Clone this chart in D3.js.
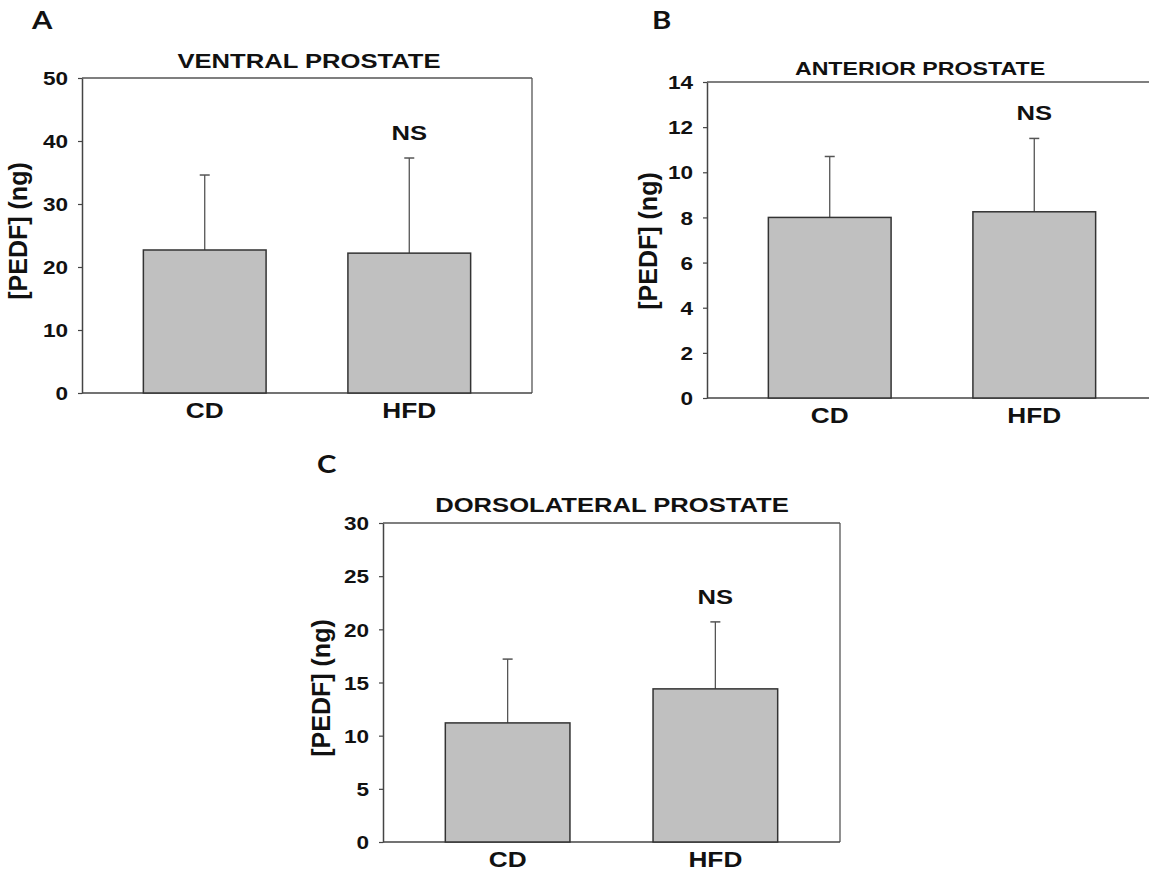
<!DOCTYPE html>
<html>
<head>
<meta charset="utf-8">
<script src="https://cdn.jsdelivr.net/npm/d3@7"></script>
<style>
  html, body { margin: 0; padding: 0; background: #fff; }
  svg { display: block; }
</style>
</head>
<body>
<svg id="chart" width="1149" height="875"></svg>
<script>
// ---- data ----
const categories = ["CD", "HFD"];
const panelLetters = ["A", "B", "C"];
const panelTitles = ["VENTRAL PROSTATE", "ANTERIOR PROSTATE", "DORSOLATERAL PROSTATE"];
const yAxisLabel = "[PEDF] (ng)";
const ventralMeans = [22.7, 22.2];
const ventralErrors = [11.9, 15.1];
const anteriorMeans = [8.0, 8.25];
const anteriorErrors = [2.7, 3.25];
const dorsolateralMeans = [11.2, 14.4];
const dorsolateralErrors = [6.0, 6.3];
const ventralTicks = [0, 10, 20, 30, 40, 50];
const anteriorTicks = [0, 2, 4, 6, 8, 10, 12, 14];
const dorsolateralTicks = [0, 5, 10, 15, 20, 25, 30];
const significance = ["", "NS"];

// ---- layout ----
const SX = 1.22; // horizontal stretch of the original figure's text
const FONT = "'Liberation Sans', Arial, sans-serif";
const panels = [
  { letter: panelLetters[0], title: panelTitles[0], means: ventralMeans, errs: ventralErrors, ticks: ventralTicks,
    x0: 82, x1: 532, yTop: 78, yBot: 393, box: "full", titleX: 309, titleY: 68, titleSize: 21,
    letterX: 32, letterY: 29, labelX: 27, labelY: 231 },
  { letter: panelLetters[1], title: panelTitles[1], means: anteriorMeans, errs: anteriorErrors, ticks: anteriorTicks,
    x0: 707, x1: 1157, yTop: 82, yBot: 398, box: "top", titleX: 920, titleY: 75, titleSize: 19,
    letterX: 652, letterY: 29, labelX: 657, labelY: 241 },
  { letter: panelLetters[2], title: panelTitles[2], means: dorsolateralMeans, errs: dorsolateralErrors, ticks: dorsolateralTicks,
    x0: 383, x1: 840, yTop: 523, yBot: 842, box: "full", titleX: 612, titleY: 512, titleSize: 21,
    letterX: 317, letterY: 473, labelX: 330, labelY: 688 }
];

const svg = d3.select("#chart");

function stretchedText(g, x, y, str, size, anchor, family) {
  return g.append("text")
    .attr("transform", `translate(${x},${y}) scale(${SX},1)`)
    .attr("text-anchor", anchor)
    .attr("font-family", family || FONT)
    .attr("font-weight", "bold")
    .attr("font-size", size)
    .attr("fill", "#111")
    .text(str);
}

panels.forEach(p => {
  const g = svg.append("g");
  const yMax = p.ticks[p.ticks.length - 1];
  const y = d3.scaleLinear().domain([0, yMax]).range([p.yBot, p.yTop]);
  const x = d3.scaleBand().domain(categories).range([p.x0, p.x1]).paddingInner(0.4).paddingOuter(0.3);

  // frame (top / right lines)
  g.append("line").attr("x1", p.x0).attr("x2", p.x1).attr("y1", p.yTop).attr("y2", p.yTop)
    .attr("stroke", "#555").attr("stroke-width", 1.3);
  if (p.box === "full") {
    g.append("line").attr("x1", p.x1).attr("x2", p.x1).attr("y1", p.yTop).attr("y2", p.yBot)
      .attr("stroke", "#555").attr("stroke-width", 1.3);
  }
  // bottom axis line
  g.append("line").attr("x1", p.x0).attr("x2", p.x1).attr("y1", p.yBot).attr("y2", p.yBot)
    .attr("stroke", "#444").attr("stroke-width", 1.5);

  // error bars
  const rows = categories.map((c, i) => ({ c, m: p.means[i], e: p.errs[i], s: significance[i] }));
  g.selectAll(".err").data(rows).join("line")
    .attr("x1", d => x(d.c) + x.bandwidth() / 2).attr("x2", d => x(d.c) + x.bandwidth() / 2)
    .attr("y1", d => y(d.m)).attr("y2", d => y(d.m + d.e))
    .attr("stroke", "#555").attr("stroke-width", 1.3);
  g.selectAll(".cap").data(rows).join("line")
    .attr("x1", d => x(d.c) + x.bandwidth() / 2 - 5).attr("x2", d => x(d.c) + x.bandwidth() / 2 + 5)
    .attr("y1", d => y(d.m + d.e)).attr("y2", d => y(d.m + d.e))
    .attr("stroke", "#555").attr("stroke-width", 1.5);

  // bars
  g.selectAll(".bar").data(rows).join("rect")
    .attr("x", d => x(d.c)).attr("width", x.bandwidth())
    .attr("y", d => y(d.m)).attr("height", d => y(0) - y(d.m))
    .attr("fill", "#c0c0c0").attr("stroke", "#333").attr("stroke-width", 1.5);

  // y axis
  const ax = g.append("g").attr("transform", `translate(${p.x0},0)`)
    .call(d3.axisLeft(y).tickValues(p.ticks).tickSize(4).tickSizeOuter(0).tickFormat(d3.format("d")));
  ax.select(".domain").attr("stroke", "#444").attr("stroke-width", 1.5);
  ax.selectAll(".tick line").attr("stroke", "#444").attr("stroke-width", 1.2);
  ax.selectAll(".tick text")
    .attr("x", -14 / SX).attr("dy", "0.36em")
    .attr("transform", `scale(${SX},1)`)
    .attr("font-family", FONT).attr("font-weight", "bold").attr("font-size", 18.5).attr("fill", "#111");

  // category labels
  rows.forEach(d => {
    stretchedText(g, x(d.c) + x.bandwidth() / 2, p.yBot + 25, d.c, 21.5, "middle");
    if (d.s) stretchedText(g, x(d.c) + x.bandwidth() / 2, y(d.m + d.e) - 18, d.s, 21, "middle");
  });

  // title
  stretchedText(g, p.titleX, p.titleY, p.title, p.titleSize, "middle");

  // panel letter
  stretchedText(g, p.letterX, p.letterY, p.letter, 24, "start", "Lato, 'Open Sans', sans-serif");

  // y axis label
  g.append("text")
    .attr("transform", `translate(${p.labelX},${p.labelY}) rotate(-90)`)
    .attr("text-anchor", "middle")
    .attr("font-family", FONT).attr("font-weight", "bold").attr("font-size", 25).attr("fill", "#111")
    .text(yAxisLabel);
});
</script>
</body>
</html>
